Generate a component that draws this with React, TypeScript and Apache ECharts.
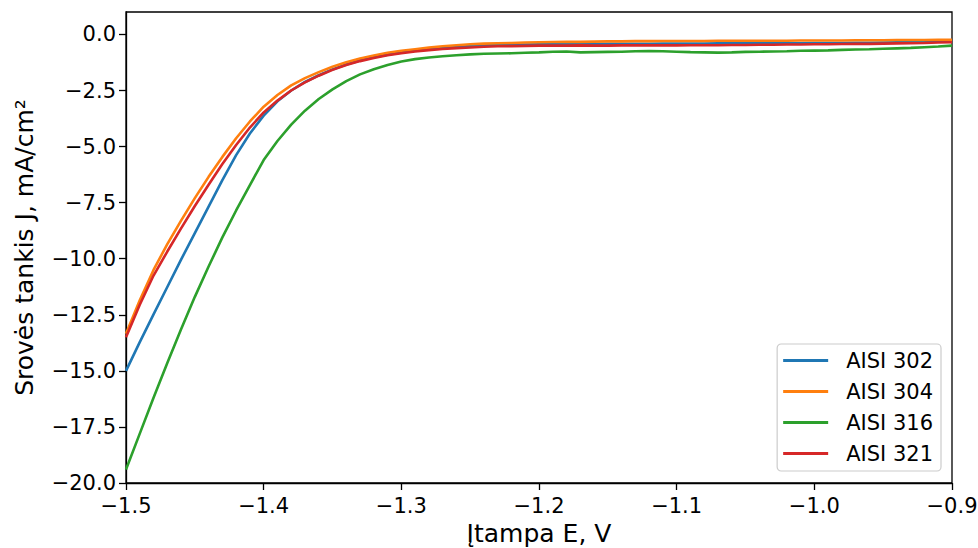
import React, { useEffect, useRef } from "react";
import * as echarts from "echarts";

const potentials = [
  -1.5, -1.49, -1.48, -1.47, -1.46, -1.45, -1.44, -1.43, -1.42, -1.41,
  -1.4, -1.39, -1.38, -1.37, -1.36, -1.35, -1.34, -1.33, -1.32, -1.31,
  -1.3, -1.29, -1.28, -1.27, -1.26, -1.25, -1.24, -1.23, -1.22, -1.21,
  -1.2, -1.19, -1.18, -1.17, -1.16, -1.15, -1.14, -1.13, -1.12, -1.11,
  -1.1, -1.09, -1.08, -1.07, -1.06, -1.05, -1.04, -1.03, -1.02, -1.01,
  -1.0, -0.99, -0.98, -0.97, -0.96, -0.95, -0.94, -0.93, -0.92, -0.91,
  -0.9,
];

const aisi302 = [
  -15.0, -13.72, -12.48, -11.26, -10.04, -8.86, -7.68, -6.5, -5.38, -4.42,
  -3.62, -2.98, -2.5, -2.12, -1.82, -1.56, -1.34, -1.16, -1.02, -0.9,
  -0.8, -0.72, -0.66, -0.6, -0.56, -0.52, -0.49, -0.47, -0.46, -0.45,
  -0.44, -0.44, -0.43, -0.43, -0.43, -0.42, -0.42, -0.42, -0.42, -0.41,
  -0.41, -0.41, -0.41, -0.4, -0.4, -0.4, -0.4, -0.39, -0.39, -0.39,
  -0.38, -0.38, -0.38, -0.37, -0.37, -0.36, -0.35, -0.34, -0.33, -0.32,
  -0.3,
];

const aisi304 = [
  -13.35, -11.85, -10.5, -9.35, -8.3, -7.3, -6.35, -5.46, -4.63, -3.88,
  -3.22, -2.7, -2.27, -1.95, -1.68, -1.44, -1.24, -1.07, -0.94, -0.82,
  -0.73, -0.66, -0.59, -0.53, -0.48, -0.44, -0.41, -0.39, -0.38, -0.36,
  -0.35, -0.34, -0.33, -0.33, -0.32, -0.31, -0.31, -0.3, -0.3, -0.29,
  -0.29, -0.29, -0.29, -0.28, -0.28, -0.28, -0.28, -0.28, -0.28, -0.27,
  -0.27, -0.27, -0.27, -0.26, -0.26, -0.26, -0.25, -0.25, -0.25, -0.24,
  -0.24,
];

const aisi316 = [
  -19.4, -17.8, -16.2, -14.65, -13.15, -11.7, -10.35, -9.05, -7.85, -6.72,
  -5.6, -4.75, -4.02, -3.4, -2.88, -2.45, -2.08, -1.78, -1.55, -1.36,
  -1.21, -1.1, -1.03, -0.97, -0.93, -0.89, -0.86, -0.85, -0.84, -0.82,
  -0.8, -0.77, -0.76, -0.8, -0.79, -0.78, -0.77, -0.75, -0.74, -0.75,
  -0.77, -0.79, -0.8, -0.81, -0.8, -0.78, -0.77, -0.76, -0.75, -0.73,
  -0.72, -0.71, -0.69, -0.67, -0.66, -0.64, -0.62, -0.6, -0.57, -0.54,
  -0.5,
];

const aisi321 = [
  -13.5, -12.05, -10.75, -9.68, -8.65, -7.65, -6.7, -5.78, -4.93, -4.15,
  -3.48, -2.95, -2.5, -2.14, -1.84, -1.58, -1.36, -1.19, -1.05, -0.93,
  -0.84, -0.76, -0.7, -0.65, -0.61, -0.58, -0.55, -0.53, -0.52, -0.51,
  -0.5, -0.5, -0.5, -0.49, -0.5, -0.5, -0.49, -0.49, -0.49, -0.49,
  -0.49, -0.48, -0.48, -0.48, -0.47, -0.47, -0.46, -0.46, -0.45, -0.45,
  -0.44, -0.44, -0.43, -0.42, -0.42, -0.41, -0.4, -0.39, -0.38, -0.36,
  -0.35,
];

const seriesNames = ["AISI 302", "AISI 304", "AISI 316", "AISI 321"];
const seriesColors = ["#1f77b4", "#ff7f0e", "#2ca02c", "#d62728"];
const xTicks = [-1.5, -1.4, -1.3, -1.2, -1.1, -1.0, -0.9];
const yTicks = [-20, -17.5, -15, -12.5, -10, -7.5, -5, -2.5, 0];

const fmt = (v: number) => {
  const s = Math.abs(v).toFixed(1);
  return v < 0 ? "\u2212" + s : s;
};

const FONT = "DejaVu Sans";

export default function App() {
  const ref = useRef<HTMLDivElement>(null);
  useEffect(() => {
    if (!ref.current) return;
    const chart = echarts.init(ref.current, undefined, { renderer: "svg" });
    const all = [aisi302, aisi304, aisi316, aisi321];
    chart.setOption({
      animation: false,
      backgroundColor: "#ffffff",
      textStyle: { fontFamily: FONT },
      grid: {
        left: 126,
        right: 26,
        top: 12,
        bottom: 65,
        containLabel: false,
        outerBoundsMode: "none",
        show: true,
        borderColor: "#000",
        borderWidth: 1.3,
        backgroundColor: "transparent",
      },
      legend: {
        data: seriesNames,
        orient: "vertical",
        right: 37,
        bottom: 77,
        icon: "rect",
        itemWidth: 45,
        itemHeight: 3,
        itemGap: 10,
        padding: [6, 8, 7, 6],
        borderColor: "#cccccc",
        borderWidth: 1.2,
        borderRadius: 4,
        backgroundColor: "rgba(255,255,255,0.8)",
        textStyle: { fontFamily: FONT, fontSize: 21, color: "#000", padding: [0, 0, 0, 13] },
      },
      xAxis: {
        type: "value",
        min: -1.5,
        max: -0.9,
        splitLine: { show: false },
        axisLine: { show: true, onZero: false, lineStyle: { color: "#000", width: 1.3 } },
        axisTick: {
          show: true,
          length: 7,
          inside: false,
          customValues: xTicks,
          lineStyle: { color: "#000", width: 1.3 },
        },
        axisLabel: {
          customValues: xTicks,
          formatter: fmt,
          color: "#000",
          fontFamily: FONT,
          fontSize: 21,
          margin: 12,
        },
        name: "Įtampa E, V",
        nameLocation: "middle",
        nameGap: 37,
        nameTextStyle: { fontFamily: FONT, fontSize: 25, color: "#000" },
      },
      yAxis: {
        type: "value",
        min: -20,
        max: 1,
        splitLine: { show: false },
        axisLine: { show: true, onZero: false, lineStyle: { color: "#000", width: 1.3 } },
        axisTick: {
          show: true,
          length: 7,
          inside: false,
          customValues: yTicks,
          lineStyle: { color: "#000", width: 1.3 },
        },
        axisLabel: {
          customValues: yTicks,
          formatter: fmt,
          color: "#000",
          fontFamily: FONT,
          fontSize: 21,
          margin: 10,
        },
        name: "Srovės tankis J, mA/cm²",
        nameLocation: "middle",
        nameGap: 89,
        nameTextStyle: { fontFamily: FONT, fontSize: 25, color: "#000" },
      },
      series: seriesNames.map((name, i) => ({
        name,
        type: "line",
        data: potentials.map((x, j) => [x, all[i][j]]),
        symbol: "none",
        showSymbol: false,
        smooth: false,
        clip: true,
        lineStyle: { color: seriesColors[i], width: 2.6 },
        itemStyle: { color: seriesColors[i] },
        z: 2 + i,
      })),
    });
    return () => chart.dispose();
  }, []);
  return (
    <div
      ref={ref}
      style={{ position: "fixed", left: 0, top: 0, width: 978, height: 548, background: "#fff" }}
    />
  );
}
